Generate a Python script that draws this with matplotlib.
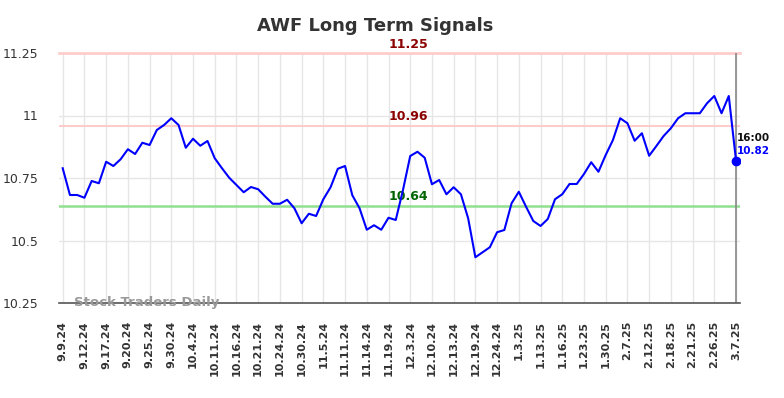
import matplotlib
matplotlib.use("Agg")
import matplotlib.pyplot as plt

title = "AWF Long Term Signals"
tick_labels = ["9.9.24", "9.12.24", "9.17.24", "9.20.24", "9.25.24", "9.30.24", "10.4.24",
               "10.11.24", "10.16.24", "10.21.24", "10.24.24", "10.30.24", "11.5.24",
               "11.11.24", "11.14.24", "11.19.24", "12.3.24", "12.10.24", "12.13.24",
               "12.19.24", "12.24.24", "1.3.25", "1.13.25", "1.16.25", "1.23.25", "1.30.25",
               "2.7.25", "2.12.25", "2.18.25", "2.21.25", "2.26.25", "3.7.25"]
prices = [10.789, 10.682, 10.682, 10.671, 10.738, 10.729, 10.815, 10.798, 10.825, 10.865,
          10.846, 10.891, 10.882, 10.942, 10.962, 10.989, 10.962, 10.871, 10.907, 10.879,
          10.898, 10.829, 10.789, 10.751, 10.722, 10.693, 10.714, 10.705, 10.675, 10.647,
          10.647, 10.663, 10.629, 10.569, 10.607, 10.598, 10.665, 10.713, 10.787, 10.798,
          10.681, 10.629, 10.543, 10.561, 10.543, 10.591, 10.582, 10.702, 10.838, 10.855,
          10.831, 10.725, 10.742, 10.685, 10.713, 10.685, 10.589, 10.433, 10.453, 10.473,
          10.533, 10.542, 10.649, 10.695, 10.635, 10.578, 10.558, 10.586, 10.665, 10.685,
          10.726, 10.726, 10.766, 10.813, 10.775, 10.842, 10.902, 10.989, 10.969, 10.899,
          10.929, 10.839, 10.878, 10.918, 10.949, 10.989, 11.009, 11.009, 11.009, 11.049,
          11.078, 11.009, 11.078, 10.82]
resistance_high = 11.25
resistance = 10.96
support = 10.64
last_time = "16:00"
yticks = [10.25, 10.5, 10.75, 11, 11.25]
ytick_labels = ["10.25", "10.5", "10.75", "11", "11.25"]

n = len(prices)
x = list(range(n))
tick_pos = list(range(0, n - 1, 3)) + [n - 1]

fig = plt.figure(figsize=(7.84, 3.98), dpi=100)
ax = fig.add_axes([59.3 / 784, 1 - 303 / 398, (740 - 59.3) / 784, 250 / 398])

ax.set_xlim(-0.47, n - 1 + 0.55)
ax.set_ylim(10.25, 11.25)

for sp in ["top", "right", "left"]:
    ax.spines[sp].set_visible(False)
ax.spines["bottom"].set_color("#555555")
ax.spines["bottom"].set_linewidth(1.2)

ax.grid(True, color="#e6e6e6", linewidth=1)
ax.set_axisbelow(True)

ax.set_yticks(yticks)
ax.set_yticklabels(ytick_labels)
ax.set_xticks(tick_pos)
ax.set_xticklabels(tick_labels, rotation=90, fontweight="bold")
ax.tick_params(axis="y", length=0, pad=15, labelsize=9, labelcolor="#333333")
ax.tick_params(axis="x", length=0, pad=13, labelsize=8, labelcolor="#333333")

ax.axhline(resistance_high, color="#ffcccc", lw=2, zorder=1, clip_on=False)
ax.axhline(resistance, color="#ffcccc", lw=1.5, zorder=1)
ax.axhline(support, color="#90e090", lw=1.8, zorder=1)
ax.axvline(n - 1, color="#888888", lw=1.2, zorder=1)

xm = 47.8
ax.text(xm, resistance_high + 0.008, f"{resistance_high:.2f}", color="#8b0000",
        fontweight="bold", fontsize=9, ha="center", va="bottom")
ax.text(xm, resistance + 0.008, f"{resistance:.2f}", color="#8b0000",
        fontweight="bold", fontsize=9, ha="center", va="bottom")
ax.text(xm, support + 0.008, f"{support:.2f}", color="#006400",
        fontweight="bold", fontsize=9, ha="center", va="bottom")

ax.plot(x, prices, color="#0000ff", lw=1.5, zorder=3)
ax.plot(x[-1], prices[-1], "o", color="#0000ff", ms=6, zorder=4)

ax.text(n - 1 + 0.05, prices[-1] + 0.078, last_time, color="#111111",
        fontweight="bold", fontsize=7.5, ha="left", va="baseline")
ax.text(n - 1 + 0.05, prices[-1] + 0.027, f"{prices[-1]:.2f}", color="#0000ff",
        fontweight="bold", fontsize=7.5, ha="left", va="baseline")

ax.text(0.0216, -0.012, "Stock Traders Daily", transform=ax.transAxes,
        color="#999999", fontweight="bold", fontsize=9.5, ha="left", va="baseline")

fig.text(375 / 784, 1 - 26 / 398, title, fontsize=13, fontweight="bold",
         color="#333333", ha="center", va="center")

fig.savefig("out.png", dpi=100)
